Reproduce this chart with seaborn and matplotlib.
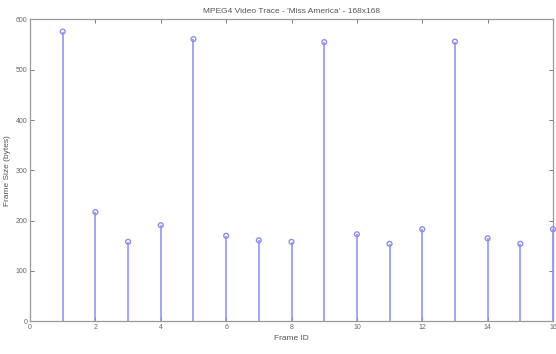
import matplotlib
matplotlib.use("Agg")
import matplotlib.pyplot as plt
import seaborn as sns
import pandas as pd

frame_ids = list(range(1, 17))
frame_sizes = [576, 217, 158, 191, 561, 170, 161, 158, 555, 173, 154, 183, 556, 165, 154, 183]
x_ticks = [0, 2, 4, 6, 8, 10, 12, 14, 16]
y_ticks = [0, 100, 200, 300, 400, 500, 600]

df = pd.DataFrame({"Frame ID": frame_ids, "Frame Size": frame_sizes})

sns.set_style("white")
plt.rcParams['font.family'] = ['Liberation Sans', 'DejaVu Sans']

fig = plt.figure(figsize=(5.56, 3.54), dpi=100)
ax = fig.add_axes([0.054, 0.0924, 0.9406, 0.8526])

stem_color = "#8c8cf5"
ax.vlines(df["Frame ID"], 0, df["Frame Size"], color=stem_color, linewidth=1.1, zorder=2)
sns.scatterplot(data=df, x="Frame ID", y="Frame Size", ax=ax, marker="o", s=12,
                facecolor="none", edgecolor=stem_color, linewidth=1.0, zorder=3, clip_on=False)

ax.set_xlim(0, 16)
ax.set_ylim(0, 600)
ax.set_xticks(x_ticks)
ax.set_yticks(y_ticks)
ax.tick_params(direction="in", length=3, width=0.6, colors="#666666", labelsize=5,
               top=True, right=True, bottom=True, left=True, pad=2)
for t in ax.get_xticklabels() + ax.get_yticklabels():
    t.set_color("#666666")
for sp in ax.spines.values():
    sp.set_color("#999999")
    sp.set_linewidth(0.9)

ax.set_title("MPEG4 Video Trace - 'Miss America' - 168x168", fontsize=6, color="#555555", pad=5)
ax.set_xlabel("Frame ID", fontsize=6, color="#555555", labelpad=3)
ax.set_ylabel("Frame Size (bytes)", fontsize=6, color="#555555", labelpad=10)
ax.yaxis.set_label_coords(-0.037, 0.5)

fig.savefig("out.png", dpi=100)
